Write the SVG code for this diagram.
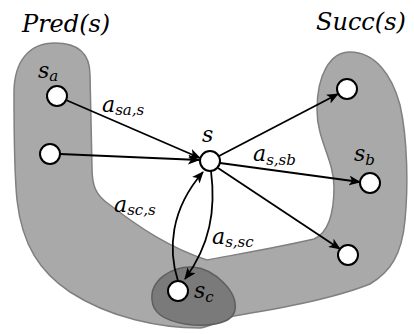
<svg xmlns="http://www.w3.org/2000/svg" width="414" height="334" viewBox="0 0 414 334">
<style>
.t{font-family:"DejaVu Serif","Liberation Serif",serif;font-style:italic;fill:#000}
.big{font-size:24px}
.lab{font-size:22px}
.sub{font-size:15px}
.node{fill:#fff;stroke:#000;stroke-width:2}
.edge{fill:none;stroke:#000;stroke-width:1.8}
</style>
<defs>
<marker id="ah" viewBox="0 0 12 10" refX="11" refY="5" markerWidth="12" markerHeight="10" markerUnits="userSpaceOnUse" orient="auto">
<path d="M0,0 L12,5 L0,10 L3,5 Z" fill="#000"/>
</marker>
</defs>
<g id="regions">
<path id="region-main" d="M14,93 C14,60 30,43 55,43 C80,43 90,55 90,75 L92,167 C92,185 95,195 110,205 C140,228 170,248 207,260 C250,252 290,245 314,239 C330,232 334,210 334,187 C334,160 317,140 317,110 C317,75 330,52 350,52 C375,52 392,75 400,105 C408,140 408,190 405,220 C402,255 390,272 370,284 C330,300 270,310 234,316 C220,320 210,327 200,328 C160,328 110,318 70,292 C40,272 22,245 17,200 C14,170 14,130 14,93 Z" fill="#a9a9a9" stroke="#808080" stroke-width="1.5"/>
<path id="region-sc" d="M152,300 C150,280 172,266 193,267 C215,269 238,292 235,310 C232,325 205,327 185,324 C162,320 153,312 152,300 Z" fill="#7a7a7a" stroke="#5e5e5e" stroke-width="1.5"/>
</g>
<g id="connectors">
<line class="edge" x1="66" y1="100" x2="200" y2="158" marker-end="url(#ah)"/>
<line class="edge" x1="60" y1="154" x2="199" y2="160" marker-end="url(#ah)"/>
<line class="edge" x1="219" y1="156" x2="338" y2="94" marker-end="url(#ah)"/>
<line class="edge" x1="220" y1="163" x2="360" y2="182" marker-end="url(#ah)"/>
<line class="edge" x1="218" y1="168" x2="340" y2="249" marker-end="url(#ah)"/>
<path class="edge" d="M178,281 C168,250 170,210 203,172" marker-end="url(#ah)"/>
<path class="edge" d="M211,171 C216,210 210,245 185,279" marker-end="url(#ah)"/>
</g>
<g id="node-sa"><circle class="node" cx="57" cy="96" r="10"/></g>
<g id="node-p2"><circle class="node" cx="50" cy="154" r="10"/></g>
<g id="node-s"><circle class="node" cx="210" cy="161" r="10"/></g>
<g id="node-t1"><circle class="node" cx="347" cy="89" r="10"/></g>
<g id="node-sb"><circle class="node" cx="370" cy="183" r="10"/></g>
<g id="node-t3"><circle class="node" cx="348" cy="255" r="10"/></g>
<g id="node-sc"><circle class="node" cx="178" cy="291" r="10"/></g>
<g id="labels">
<text class="t big" x="22" y="32">Pred(s)</text>
<text class="t big" x="316" y="30">Succ(s)</text>
<text class="t lab" x="202" y="142">s</text>
<text class="t lab" x="38" y="78">s<tspan class="sub" dy="3">a</tspan></text>
<text class="t lab" x="354" y="161">s<tspan class="sub" dy="4">b</tspan></text>
<text class="t lab" x="194" y="298">s<tspan class="sub" dy="4">c</tspan></text>
<text class="t lab" x="102" y="112">a<tspan class="sub" dy="3">sa,s</tspan></text>
<text class="t lab" x="253" y="161">a<tspan class="sub" dy="4">s,sb</tspan></text>
<text class="t lab" x="114" y="212">a<tspan class="sub" dy="3">sc,s</tspan></text>
<text class="t lab" x="212" y="244">a<tspan class="sub" dy="3">s,sc</tspan></text>
</g>
</svg>
